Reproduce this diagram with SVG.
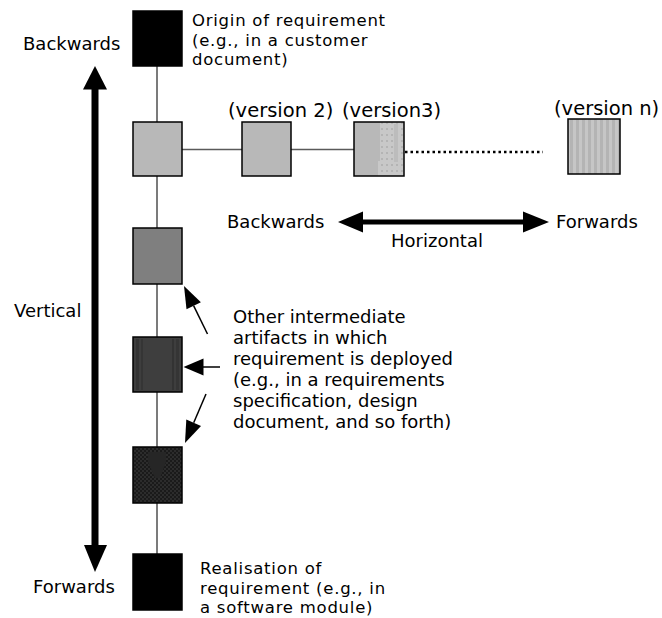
<svg xmlns="http://www.w3.org/2000/svg" width="662" height="618" viewBox="0 0 662 618">
<style>
  text { font-family: "DejaVu Sans", Verdana, sans-serif; font-size: 18px; fill: #000; }
  .ver { font-size: 19.5px; }
  .tight { font-size: 16.5px; letter-spacing: 0.75px; }
  .box { stroke: #000; stroke-width: 1.5; }
  .chain { stroke: #5a5a5a; stroke-width: 1.6; fill: none; }
  .ptr { stroke: #000; stroke-width: 1.5; fill: none; }
  .head { fill: #000; stroke: none; }
</style>
<defs>
  <pattern id="stripes" x="0" y="0" width="6" height="6" patternUnits="userSpaceOnUse">
    <rect width="6" height="6" fill="#b4b4b4"/>
    <rect x="3" width="3" height="6" fill="#c6c6c6"/>
  </pattern>
  <pattern id="checker" x="0" y="0" width="4" height="4" patternUnits="userSpaceOnUse">
    <rect width="4" height="4" fill="#1a1a1a"/>
    <rect width="2" height="2" fill="#2c2c2c"/>
    <rect x="2" y="2" width="2" height="2" fill="#2c2c2c"/>
  </pattern>
  <pattern id="dots" x="0" y="0" width="5" height="6" patternUnits="userSpaceOnUse">
    <rect width="5" height="6" fill="#c8c8c8"/>
    <rect x="1" y="2" width="2" height="2" fill="#b4b4b4"/>
  </pattern>
</defs>

<g id="connectors">
  <line class="chain" x1="157" y1="66" x2="157" y2="554"/>
  <line class="chain" x1="182" y1="149.5" x2="242" y2="149.5"/>
  <line class="chain" x1="291" y1="149.5" x2="354" y2="149.5"/>
  <line x1="405" y1="152" x2="543" y2="152" stroke="#000" stroke-width="2.5" stroke-dasharray="2.5 3"/>
  <g id="vertical-arrow">
    <line x1="95" y1="88" x2="95" y2="546" stroke="#000" stroke-width="7"/>
    <polygon class="head" points="95,66 83,89.5 107,89.5"/>
    <polygon class="head" points="95,572 84,545 107,545"/>
  </g>
  <g id="horizontal-arrow">
    <line x1="361" y1="222" x2="525" y2="222" stroke="#000" stroke-width="5"/>
    <polygon class="head" points="338,222 363,211.5 363,232.5"/>
    <polygon class="head" points="549,222 523,211.5 523,232.5"/>
  </g>
  <g id="pointers">
    <line class="ptr" x1="207.5" y1="334" x2="193.7" y2="305.8"/>
    <polygon class="head" points="184,286 200.9,302.3 186.5,309.3"/>
    <line class="ptr" x1="220" y1="367" x2="202" y2="367"/>
    <polygon class="head" points="183.5,367 203.5,358.5 203.5,375.5"/>
    <line class="ptr" x1="206" y1="394" x2="193.7" y2="422.8"/>
    <polygon class="head" points="185,443 201,426 186.3,419.6"/>
  </g>
</g>

<g id="node-origin">
  <rect class="box" x="133" y="11" width="49" height="55" fill="#000"/>
  <text class="tight" x="192" y="26"><tspan x="192" y="26">Origin of requirement</tspan><tspan x="192" y="45.5">(e.g., in a customer</tspan><tspan x="192" y="65">document)</tspan></text>
</g>

<g id="node-version1">
  <rect class="box" x="133" y="122" width="49" height="54" fill="#b8b8b8"/>
</g>

<g id="node-version2">
  <rect class="box" x="242" y="122" width="49" height="54" fill="#b8b8b8"/>
  <text class="ver" x="228" y="117">(version 2)</text>
</g>

<g id="node-version3">
  <rect x="354" y="122" width="50" height="54" fill="#b8b8b8"/>
  <rect x="380" y="122" width="24" height="54" fill="url(#dots)"/>
  <rect x="378" y="161" width="26" height="15" fill="url(#dots)"/>
  <rect x="394" y="124" width="4" height="38" fill="#bcbcbc"/>
  <rect class="box" x="354" y="122" width="50" height="54" fill="none"/>
  <text class="ver" x="342" y="117">(version3)</text>
</g>

<g id="node-versionn">
  <rect class="box" x="568" y="119" width="52" height="55" fill="url(#stripes)"/>
  <text class="ver" x="554" y="115">(version n)</text>
</g>

<g id="node-intermediate1">
  <rect class="box" x="133" y="228" width="49" height="56" fill="#7f7f7f"/>
</g>

<g id="node-intermediate2">
  <rect x="133" y="337" width="49" height="55" fill="#3e3e3e"/>
  <rect x="136" y="339" width="3" height="51" fill="#333"/>
  <rect x="141" y="339" width="2" height="51" fill="#353535"/>
  <rect x="172" y="339" width="2" height="51" fill="#333"/>
  <rect x="176" y="339" width="3" height="51" fill="#353535"/>
  <rect class="box" x="133" y="337" width="49" height="55" fill="none"/>
</g>

<g id="node-intermediate3">
  <rect class="box" x="133" y="447" width="49" height="56" fill="url(#checker)"/>
  <polygon points="148,452 166,452 166,462 160,478 155,478 148,462" fill="#262626"/>
</g>

<g id="node-realisation">
  <rect class="box" x="133" y="554" width="49" height="56" fill="#000"/>
  <text class="tight" x="200" y="574"><tspan x="200" y="574">Realisation of</tspan><tspan x="200" y="593.5">requirement (e.g., in</tspan><tspan x="200" y="613">a software module)</tspan></text>
</g>

<g id="labels">
  <text x="23" y="50">Backwards</text>
  <text x="33" y="593">Forwards</text>
  <text x="14" y="317">Vertical</text>
  <text x="227" y="228">Backwards</text>
  <text x="556" y="228">Forwards</text>
  <text x="391" y="247">Horizontal</text>
  <text x="233" y="323"><tspan x="233" y="323">Other intermediate</tspan><tspan x="233" y="344">artifacts in which</tspan><tspan x="233" y="365">requirement is deployed</tspan><tspan x="233" y="386">(e.g., in a requirements</tspan><tspan x="233" y="407">specification, design</tspan><tspan x="233" y="428">document, and so forth)</tspan></text>
</g>
</svg>
